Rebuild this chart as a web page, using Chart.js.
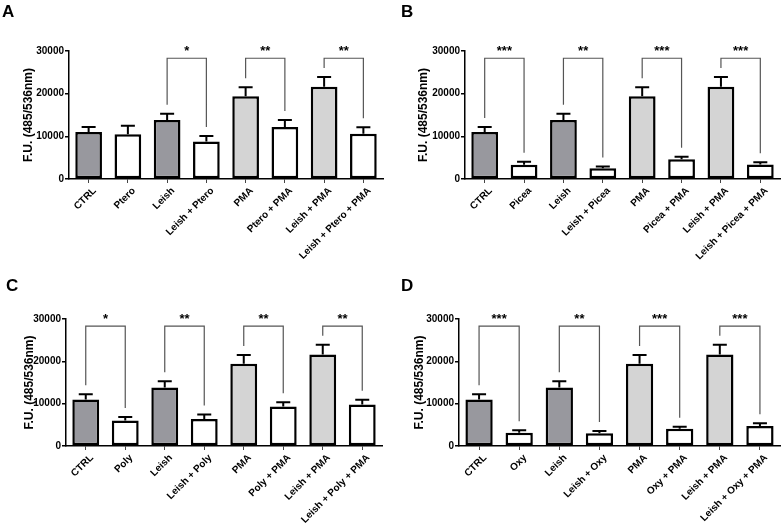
<!DOCTYPE html>
<html>
<head>
<meta charset="utf-8">
<script src="https://cdn.jsdelivr.net/npm/chart.js@4.4.0/dist/chart.umd.min.js"></script>
<style>
  body { margin: 0; background: #fff; }
  #wrap { position: relative; width: 781px; height: 523px; overflow: hidden; }
  .panel { position: absolute; }
  .letter { position: absolute; font: bold 17px "Liberation Sans", Arial, sans-serif; color: #000; }
</style>
</head>
<body>
<div id="wrap">
  <div class="panel" style="left:0;top:0;width:390px;height:262px"><canvas id="chartA"></canvas></div>
  <div class="panel" style="left:390px;top:0;width:391px;height:262px"><canvas id="chartB"></canvas></div>
  <div class="panel" style="left:0;top:262px;width:390px;height:261px"><canvas id="chartC"></canvas></div>
  <div class="panel" style="left:390px;top:262px;width:391px;height:261px"><canvas id="chartD"></canvas></div>
  <div class="letter" style="left:2px;top:2px">A</div>
  <div class="letter" style="left:401px;top:2px">B</div>
  <div class="letter" style="left:6px;top:276px">C</div>
  <div class="letter" style="left:401px;top:276px">D</div>
</div>
<script>
// values (F.U. 485/536nm), mean and upper error
const categoriesA = ['CTRL', 'Ptero', 'Leish', 'Leish + Ptero', 'PMA', 'Ptero + PMA', 'Leish + PMA', 'Leish + Ptero + PMA'];
const valuesA = [11000, 10500, 13800, 8800, 19400, 12200, 21600, 10600];
const errorsA = [1200, 2000, 1500, 1300, 2100, 1600, 2300, 1500];
const bracketsA = [[2, 3, '*'], [4, 5, '**'], [6, 7, '**']];

const categoriesB = ['CTRL', 'Picea', 'Leish', 'Leish + Picea', 'PMA', 'Picea + PMA', 'Leish + PMA', 'Leish + Picea + PMA'];
const valuesB = [11000, 3350, 13800, 2500, 19400, 4600, 21600, 3400];
const errorsB = [1200, 700, 1500, 450, 2100, 600, 2300, 550];
const bracketsB = [[0, 1, '***'], [2, 3, '**'], [4, 5, '***'], [6, 7, '***']];

const categoriesC = ['CTRL', 'Poly', 'Leish', 'Leish + Poly', 'PMA', 'Poly + PMA', 'Leish + PMA', 'Leish + Poly + PMA'];
const valuesC = [11000, 6000, 13800, 6350, 19400, 9350, 21600, 9800];
const errorsC = [1200, 850, 1500, 1100, 2100, 1000, 2300, 1100];
const bracketsC = [[0, 1, '*'], [2, 3, '**'], [4, 5, '**'], [6, 7, '**']];

const categoriesD = ['CTRL', 'Oxy', 'Leish', 'Leish + Oxy', 'PMA', 'Oxy + PMA', 'Leish + PMA', 'Leish + Oxy + PMA'];
const valuesD = [11000, 3150, 13800, 3000, 19400, 4100, 21600, 4700];
const errorsD = [1200, 550, 1500, 550, 2100, 450, 2300, 700];
const bracketsD = [[0, 1, '***'], [2, 3, '**'], [4, 5, '***'], [6, 7, '***']];

const yTicks = [0, 10000, 20000, 30000];
const bracketLevel = 28300;

const DARK = 'rgb(152,152,158)';
const LIGHT = 'rgb(212,212,212)';
const fills = [DARK, '#fff', DARK, '#fff', LIGHT, '#fff', LIGHT, '#fff'];
const FONT = '"Liberation Sans", Arial, sans-serif';

// error bars + significance brackets
const annotate = {
  id: 'annotate',
  afterDatasetsDraw(chart, args, opts) {
    const ctx = chart.ctx;
    const y = chart.scales.y;
    const meta = chart.getDatasetMeta(0);
    const vals = opts.values, errs = opts.errors;
    ctx.save();
    ctx.strokeStyle = '#000';
    ctx.lineWidth = 2;
    meta.data.forEach((bar, i) => {
      const top = y.getPixelForValue(vals[i] + errs[i]);
      const base = y.getPixelForValue(vals[i]);
      ctx.beginPath();
      ctx.moveTo(bar.x, base);
      ctx.lineTo(bar.x, top);
      ctx.moveTo(bar.x - 7, top);
      ctx.lineTo(bar.x + 7, top);
      ctx.stroke();
    });
    ctx.strokeStyle = '#555';
    ctx.lineWidth = 1.2;
    ctx.fillStyle = '#000';
    ctx.font = 'bold 13px ' + FONT;
    ctx.textAlign = 'center';
    ctx.textBaseline = 'alphabetic';
    const yb = y.getPixelForValue(bracketLevel);
    opts.brackets.forEach(([a, b, label]) => {
      const xa = meta.data[a].x, xb = meta.data[b].x;
      const ya = y.getPixelForValue(vals[a] + errs[a]) - 9;
      const yc = y.getPixelForValue(vals[b] + errs[b]) - 9;
      ctx.beginPath();
      ctx.moveTo(xa, ya);
      ctx.lineTo(xa, yb);
      ctx.lineTo(xb, yb);
      ctx.lineTo(xb, yc);
      ctx.stroke();
      ctx.fillText(label, (xa + xb) / 2, yb - 3);
    });
    ctx.restore();
  }
};

function makePanel(id, cats, vals, errs, brackets, box) {
  new Chart(document.getElementById(id), {
    type: 'bar',
    data: {
      labels: cats,
      datasets: [{
        data: vals,
        backgroundColor: fills,
        borderColor: '#000',
        borderWidth: 2.5,
        borderSkipped: false,
        barPercentage: 0.68,
        categoryPercentage: 1
      }]
    },
    options: {
      responsive: true,
      maintainAspectRatio: false,
      animation: false,
      layout: { padding: { top: box.top, right: box.right, left: 0, bottom: 0 } },
      plugins: {
        legend: { display: false },
        tooltip: { enabled: false },
        annotate: { values: vals, errors: errs, brackets: brackets }
      },
      scales: {
        x: {
          afterFit: s => { s.height = box.xh; },
          border: { color: '#000', width: 1.5 },
          grid: { drawOnChartArea: false, offset: false, color: '#444', lineWidth: 1, tickLength: 4 },
          ticks: {
            autoSkip: false, minRotation: 45, maxRotation: 45, padding: 2, labelOffset: 6,
            color: '#000', font: { family: FONT, size: 10, weight: 'bold' }
          }
        },
        y: {
          min: 0, max: 30000,
          afterFit: s => { s.width = box.yw; },
          afterBuildTicks: s => { s.ticks = yTicks.map(v => ({ value: v })); },
          border: { color: '#000', width: 1.5 },
          grid: { drawOnChartArea: false, color: '#000', lineWidth: 1.5, tickLength: 4 },
          ticks: {
            padding: 1, color: '#000', font: { family: FONT, size: 10, weight: 'bold' },
            callback: v => String(v)
          },
          title: {
            display: true, text: 'F.U. (485/536nm)', color: '#000',
            padding: { top: box.tp, bottom: 0 },
            font: { family: FONT, size: 12, weight: 'bold' }
          }
        }
      }
    },
    plugins: [annotate]
  });
}

makePanel('chartA', categoriesA, valuesA, errorsA, bracketsA, { top: 51, right: 7, xh: 83, yw: 69, tp: 21 });
makePanel('chartB', categoriesB, valuesB, errorsB, bracketsB, { top: 51, right: 1, xh: 83, yw: 75, tp: 26 });
makePanel('chartC', categoriesC, valuesC, errorsC, bracketsC, { top: 57, right: 8, xh: 77, yw: 66, tp: 22 });
makePanel('chartD', categoriesD, valuesD, errorsD, bracketsD, { top: 57, right: 1, xh: 77, yw: 69, tp: 22 });
</script>
</body>
</html>
